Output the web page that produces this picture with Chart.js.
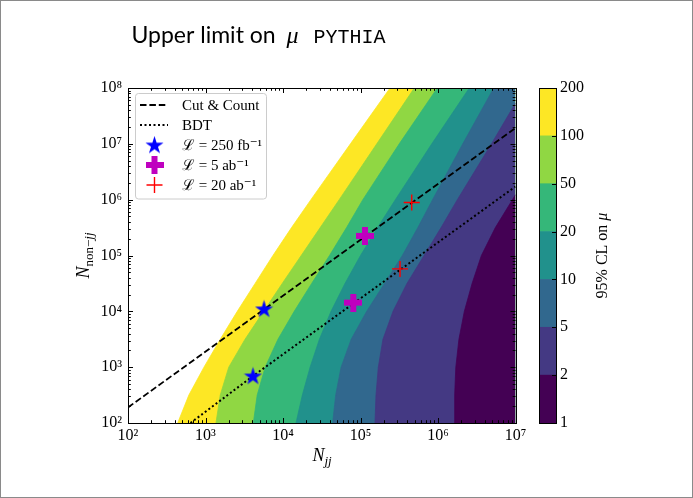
<!DOCTYPE html>
<html><head><meta charset="utf-8">
<script src="https://cdn.jsdelivr.net/npm/chart.js@4.4.1/dist/chart.umd.min.js"></script>
<style>
html,body{margin:0;padding:0;background:#fff;}
#wrap{position:relative;width:693px;height:498px;overflow:hidden;background:#fff}
canvas{position:absolute;left:0;top:0}
#frame{position:absolute;left:0;top:0;width:693px;height:498px;box-sizing:border-box;border:1px solid #8a8a8a;pointer-events:none}
</style></head><body>
<div id="wrap"><canvas id="main" width="693" height="498"></canvas><canvas id="cbar" width="693" height="498"></canvas><div id="frame"></div></div>
<script>
// ---------------- data ----------------
const levels = [1, 2, 5, 10, 20, 50, 100, 200];
const bandColors = ['#440154', '#443983', '#31688e', '#21918c', '#35b779', '#90d743', '#fde725'];
const xMin = 1e2, xMax = 1e7, yMin = 1e2, yMax = 1e8;
const xTickValues = [1e2, 1e3, 1e4, 1e5, 1e6, 1e7];
const yTickValues = [1e2, 1e3, 1e4, 1e5, 1e6, 1e7, 1e8];

// contour boundaries (N_jj, N_non-jj) where the 95% CL limit equals the level
const c200X = [437.5, 609.5, 955, 1549, 2570, 4365, 7413, 12880, 22910, 74130, 240400];
const c200Y = [100, 316, 1e3, 3160, 1e4, 31600, 1e5, 316000, 1e6, 1e7, 1e8];
const c100X = [1365, 1549, 1995, 3236, 5623, 9772, 17180, 30200, 53090, 162200, 494300];
const c100Y = [100, 316, 1e3, 3160, 1e4, 31600, 1e5, 316000, 1e6, 1e7, 1e8];
const c50X = [4140, 4645, 5888, 8610, 13960, 23440, 39810, 66070, 107200, 316200, 979500];
const c50Y = [100, 316, 1e3, 3160, 1e4, 31600, 1e5, 316000, 1e6, 1e7, 1e8];
const c20X = [14720, 17780, 22390, 29510, 41690, 63100, 100000, 166000, 281800, 831800, 2535000];
const c20Y = [100, 316, 1e3, 3160, 1e4, 31600, 1e5, 316000, 1e6, 1e7, 1e8];
const c10X = [43750, 47860, 56230, 75860, 120200, 204200, 346700, 549500, 851100, 2089000, 5248000];
const c10Y = [100, 316, 1e3, 3160, 1e4, 31600, 1e5, 316000, 1e6, 1e7, 1e8];
const c5X = [153800, 158500, 169800, 195000, 263000, 398100, 660700, 1096000, 1778000, 2951000, 4898000, 1e7];
const c5Y = [100, 316, 1e3, 3160, 1e4, 31600, 1e5, 316000, 1e6, 3160000, 1e7, 5.37e7];
const c2X = [1622000, 1641000, 1698000, 1862000, 2188000, 2754000, 3631000, 5495000, 1e7];
const c2Y = [100, 316, 1e3, 3160, 1e4, 31600, 1e5, 316000, 1.23e6];

// lines
const cutCountX = [1e2, 1e7];
const cutCountY = [190, 1.92e7];
const bdtX = [640, 4100, 1e7];
const bdtY = [100, 695, 1.72e6];

// benchmark points
const lumi250X = [5690, 4100];
const lumi250Y = [11040, 695];
const lumi5X = [114300, 80700];
const lumi5Y = [224400, 14330];
const lumi20X = [458000, 323600];
const lumi20Y = [887000, 57540];

// ---------------- helpers ----------------
const SERIF = '"Liberation Serif", "DejaVu Serif", serif';
function pts(xs, ys) { return xs.map((x, i) => ({x: x, y: ys[i]})); }
function sup(n) { const m = {'0':'⁰','1':'¹','2':'²','3':'³','4':'⁴','5':'⁵','6':'⁶','7':'⁷','8':'⁸','9':'⁹','-':'⁻'}; return String(n).split('').map(c => m[c]).join(''); }
function powLabel(v, list) {
  for (const t of list) { if (Math.abs(v - t) / t < 1e-6) return '10' + sup(Math.round(Math.log10(t))); }
  return '';
}
function makeStar(size, color) {
  const c = document.createElement('canvas'); c.width = size; c.height = size;
  const g = c.getContext('2d'); g.fillStyle = color; g.beginPath();
  const R = size / 2, r = R * 0.382;
  for (let i = 0; i < 10; i++) {
    const a = -Math.PI / 2 + i * Math.PI / 5; const rr = (i % 2) ? r : R;
    g.lineTo(R + rr * Math.cos(a), R + 0.6 + rr * Math.sin(a));
  }
  g.closePath(); g.fill(); return c;
}
function makePlus(size, arm, color) {
  const c = document.createElement('canvas'); c.width = size; c.height = size;
  const g = c.getContext('2d'); g.fillStyle = color;
  const o = (size - arm) / 2;
  g.fillRect(o, 0, arm, size); g.fillRect(0, o, size, arm); return c;
}
const starImg = makeStar(19, '#0000ff');
const plusImg = makePlus(18, 6, '#bf00bf');

// ---------------- main chart ----------------
const contours = [
  {level: 200, xs: c200X, ys: c200Y}, {level: 100, xs: c100X, ys: c100Y},
  {level: 50, xs: c50X, ys: c50Y}, {level: 20, xs: c20X, ys: c20Y},
  {level: 10, xs: c10X, ys: c10Y}, {level: 5, xs: c5X, ys: c5Y}, {level: 2, xs: c2X, ys: c2Y}
];
const datasets = [];
contours.forEach((c, i) => {
  const p = pts(c.xs, c.ys);
  if (c.ys[c.ys.length - 1] >= yMax) p.push({x: xMax, y: yMax});
  const col = bandColors[levels.indexOf(c.level) - 1];
  datasets.push({data: p, showLine: true, fill: 'start', backgroundColor: col, borderColor: col,
    borderWidth: 0.8, pointRadius: 0, tension: 0, order: 100 - i});
});
datasets.push({data: pts(cutCountX, cutCountY), showLine: true, fill: false, borderColor: '#000', borderWidth: 1.8,
  borderDash: [6.5, 2.9], pointRadius: 0, order: 10});
datasets.push({data: pts(bdtX, bdtY), showLine: true, fill: false, borderColor: '#000', borderWidth: 2,
  borderDash: [2, 2.5], pointRadius: 0, order: 9});
datasets.push({data: pts(lumi250X, lumi250Y), showLine: false, pointStyle: starImg, pointRadius: 9, order: 3});
datasets.push({data: pts(lumi5X, lumi5Y), showLine: false, pointStyle: plusImg, pointRadius: 9, order: 2});
datasets.push({data: pts(lumi20X, lumi20Y), showLine: false, pointStyle: 'cross', pointRadius: 8,
  borderColor: '#ff0000', borderWidth: 1.4, order: 1});

function drawParts(ctx, parts, cx, cy, rot) {
  ctx.save(); ctx.translate(cx, cy); ctx.rotate(rot || 0);
  let w = 0; parts.forEach(p => { ctx.font = p.font; p.w = ctx.measureText(p.t).width; w += p.w; });
  let x = -w / 2; ctx.textBaseline = 'alphabetic'; ctx.textAlign = 'left'; ctx.fillStyle = '#000';
  parts.forEach(p => { ctx.font = p.font; ctx.fillText(p.t, x, p.dy || 0); x += p.w; });
  ctx.restore();
}

const mainDecor = {
  id: 'mainDecor',
  afterDraw(chart) {
    const ctx = chart.ctx, a = chart.chartArea, xs = chart.scales.x, ys = chart.scales.y;
    ctx.save();
    ctx.strokeStyle = '#000'; ctx.lineWidth = 1;
    // inward ticks on all sides
    ctx.beginPath();
    for (let e = 2; e < 7; e++) for (let m = 1; m <= 9; m++) {
      const v = m * Math.pow(10, e); const px = Math.round(xs.getPixelForValue(v)) + 0.5; const L = m === 1 ? 5 : 2.8;
      ctx.moveTo(px, a.bottom); ctx.lineTo(px, a.bottom - L); ctx.moveTo(px, a.top); ctx.lineTo(px, a.top + L);
    }
    for (let e = 2; e < 8; e++) for (let m = 1; m <= 9; m++) {
      const v = m * Math.pow(10, e); const py = Math.round(ys.getPixelForValue(v)) + 0.5; const L = m === 1 ? 5 : 2.8;
      ctx.moveTo(a.left, py); ctx.lineTo(a.left + L, py); ctx.moveTo(a.right, py); ctx.lineTo(a.right - L, py);
    }
    ctx.stroke();
    ctx.strokeRect(Math.round(a.left) + 0.5, Math.round(a.top) + 0.5, Math.round(a.right - a.left), Math.round(a.bottom - a.top));
    // axis titles
    drawParts(ctx, [{t: 'N', font: 'italic 18px ' + SERIF}, {t: 'jj', font: 'italic 13px ' + SERIF, dy: 4}], 322, 461, 0);
    drawParts(ctx, [{t: 'N', font: 'italic 18px ' + SERIF}, {t: 'non', font: '13px ' + SERIF, dy: 4},
      {t: '−', font: '13px ' + SERIF, dy: 4}, {t: 'jj', font: 'italic 13px ' + SERIF, dy: 4}], 89, 255.5, -Math.PI / 2);
    // title
    ctx.fillStyle = '#000'; ctx.textBaseline = 'alphabetic'; ctx.textAlign = 'left';
    ctx.font = '23px Lato, "Open Sans", sans-serif'; ctx.fillText('Upper limit on', 131.5, 43);
    ctx.font = 'italic 24px ' + SERIF; ctx.fillText('μ', 286.5, 43);
    ctx.font = '20px "Liberation Mono", "DejaVu Sans Mono", monospace'; ctx.fillText('PYTHIA', 313.5, 43);
    // legend
    const bx = 135.5, by = 93.5, bw = 131, bh = 105.5;
    ctx.beginPath(); ctx.roundRect(bx, by, bw, bh, 3);
    ctx.fillStyle = 'rgba(255,255,255,0.85)'; ctx.fill(); ctx.strokeStyle = '#cccccc'; ctx.lineWidth = 1; ctx.stroke();
    const rows = [105, 125, 145, 165, 185];
    ctx.strokeStyle = '#000'; ctx.lineWidth = 1.8; ctx.setLineDash([6.5, 2.9]);
    ctx.beginPath(); ctx.moveTo(140, rows[0]); ctx.lineTo(168, rows[0]); ctx.stroke();
    ctx.lineWidth = 2; ctx.setLineDash([2, 2.5]);
    ctx.beginPath(); ctx.moveTo(140, rows[1]); ctx.lineTo(168, rows[1]); ctx.stroke();
    ctx.setLineDash([]);
    ctx.drawImage(starImg, 154.5 - starImg.width / 2, rows[2] - starImg.height / 2);
    ctx.drawImage(plusImg, 154.5 - plusImg.width / 2, rows[3] - plusImg.height / 2);
    ctx.strokeStyle = '#ff0000'; ctx.lineWidth = 1.4; ctx.beginPath();
    ctx.moveTo(146.5, rows[4]); ctx.lineTo(162.5, rows[4]); ctx.moveTo(154.5, rows[4] - 8); ctx.lineTo(154.5, rows[4] + 8); ctx.stroke();
    ctx.fillStyle = '#000'; ctx.font = '15px ' + SERIF; ctx.textBaseline = 'middle';
    const labels = ['Cut & Count', 'BDT', 'ℒ = 250 fb⁻¹', 'ℒ = 5 ab⁻¹', 'ℒ = 20 ab⁻¹'];
    labels.forEach((t, i) => ctx.fillText(t, 182, rows[i] + 1));
    ctx.restore();
  }
};

new Chart(document.getElementById('main'), {
  type: 'line',
  data: {datasets: datasets},
  options: {
    responsive: false, animation: false, devicePixelRatio: 1,
    layout: {padding: {left: 0, top: 88, right: 177.5, bottom: 0}},
    plugins: {legend: {display: false}, tooltip: {enabled: false}},
    scales: {
      x: {type: 'logarithmic', min: xMin, max: xMax, afterFit: s => { s.height = 75; },
        grid: {display: false, drawTicks: false}, border: {display: false},
        ticks: {autoSkip: false, maxRotation: 0, padding: 3, color: '#000', font: {family: SERIF, size: 16},
          callback: v => powLabel(v, xTickValues)}},
      y: {type: 'logarithmic', min: yMin, max: yMax, afterFit: s => { s.width = 128; },
        grid: {display: false, drawTicks: false}, border: {display: false},
        ticks: {autoSkip: false, padding: 6, color: '#000', font: {family: SERIF, size: 16},
          callback: v => powLabel(v, yTickValues)}}
    }
  },
  plugins: [mainDecor]
});

// ---------------- colour bar ----------------
const cbarDecor = {
  id: 'cbarDecor',
  afterDraw(chart) {
    const ctx = chart.ctx, a = chart.chartArea, ys = chart.scales.y;
    ctx.save(); ctx.strokeStyle = '#000'; ctx.lineWidth = 1;
    ctx.beginPath();
    for (let i = 1; i < levels.length - 1; i++) {
      const py = Math.round(ys.getPixelForValue(i)) + 0.5;
      ctx.moveTo(a.right, py); ctx.lineTo(a.right - 4, py);
    }
    ctx.stroke();
    ctx.strokeRect(Math.round(a.left) + 0.5, Math.round(a.top) + 0.5, Math.round(a.right - a.left), Math.round(a.bottom - a.top));
    drawParts(ctx, [{t: '95% CL on ', font: '16px ' + SERIF}, {t: 'μ', font: 'italic 16px ' + SERIF}], 607, 255.5, -Math.PI / 2);
    ctx.restore();
  }
};
new Chart(document.getElementById('cbar'), {
  type: 'bar',
  data: {labels: [''], datasets: bandColors.map((c, i) => ({data: [1], backgroundColor: c, borderWidth: 0,
    barPercentage: 1, categoryPercentage: 1}))},
  options: {
    responsive: false, animation: false, devicePixelRatio: 1,
    layout: {padding: {left: 539, right: 97, top: 88, bottom: 75}},
    plugins: {legend: {display: false}, tooltip: {enabled: false}},
    scales: {
      x: {display: false, stacked: true},
      y: {stacked: true, position: 'right', min: 0, max: levels.length - 1, afterFit: s => { s.width = 40; },
        grid: {display: false, drawTicks: false}, border: {display: false},
        ticks: {stepSize: 1, autoSkip: false, padding: 4, color: '#000', font: {family: SERIF, size: 16},
          callback: v => levels[v]}}
    }
  },
  plugins: [cbarDecor]
});
</script>
</body></html>
